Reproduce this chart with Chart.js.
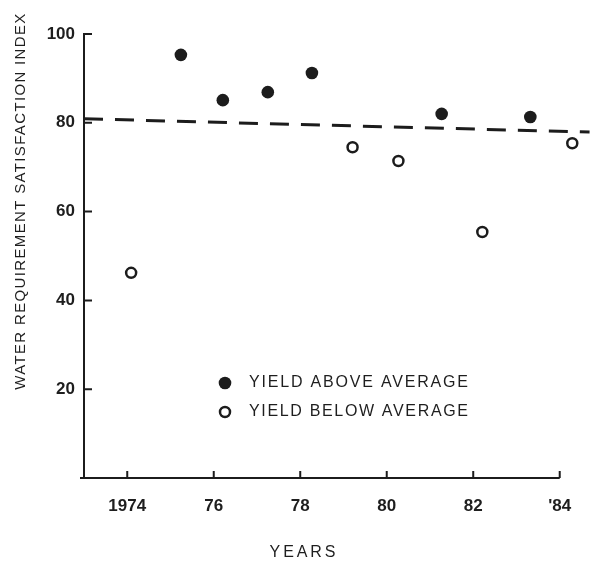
<!DOCTYPE html>
<html><head><meta charset="utf-8">
<script src="https://cdn.jsdelivr.net/npm/chart.js@4/dist/chart.umd.min.js"></script>
<style>html,body{margin:0;padding:0;background:#fff;} canvas{display:block;}</style>
</head><body>
<canvas id="c" width="590" height="561"></canvas>
<script>
// ---- data ----
const aboveYears  = [1975.24, 1976.21, 1977.25, 1978.27, 1981.27, 1983.32];
const aboveValues = [95.3, 85.1, 86.9, 91.2, 82.0, 81.3];
const belowYears  = [1974.09, 1979.21, 1980.27, 1982.21, 1984.29];
const belowValues = [46.2, 74.5, 71.4, 55.4, 75.4];
const meanLineYears  = [1973, 1984.69];
const meanLineValues = [80.9, 77.9];
const xTickValues = [1974, 1976, 1978, 1980, 1982, 1984];
const xTickLabels = ['1974', '76', '78', '80', '82', "'84"];
const yTickValues = [20, 40, 60, 80, 100];
const yTickLabels = ['20', '40', '60', '80', '100'];
const seriesLabels = ['YIELD ABOVE AVERAGE', 'YIELD BELOW AVERAGE'];
const xTitle = 'YEARS';
const yTitle = 'WATER REQUIREMENT SATISFACTION INDEX';

const INK = '#1c1c1c';
const TEXT = '#1e1e1e';
const FONT = 'Liberation Sans, Arial, sans-serif';
const X_AXIS_END = 1984;
const pts = (xs, ys) => xs.map((x, i) => ({x: x, y: ys[i]}));

function spacedText(ctx, text, x, y, targetWidth) {
  ctx.letterSpacing = '0px';
  const w = ctx.measureText(text).width;
  const sp = Math.max(0, (targetWidth - w) / (text.length - 1));
  ctx.letterSpacing = sp + 'px';
  ctx.fillText(text, x, y);
  ctx.letterSpacing = '0px';
}

const decor = {
  id: 'decor',
  afterDraw(chart) {
    const ctx = chart.ctx;
    const xs = chart.scales.x, ys = chart.scales.y;
    const ca = chart.chartArea;
    ctx.save();
    ctx.strokeStyle = INK;
    ctx.lineWidth = 2;
    // x axis line (ends at the last year tick)
    ctx.beginPath();
    ctx.moveTo(ca.left - 4, ca.bottom);
    ctx.lineTo(xs.getPixelForValue(X_AXIS_END), ca.bottom);
    // inward tick marks
    yTickValues.forEach(v => {
      const py = ys.getPixelForValue(v);
      ctx.moveTo(ca.left, py); ctx.lineTo(ca.left + 8, py);
    });
    xTickValues.forEach(v => {
      const px = xs.getPixelForValue(v);
      ctx.moveTo(px, ca.bottom); ctx.lineTo(px, ca.bottom - 7);
    });
    ctx.stroke();

    ctx.fillStyle = TEXT;
    // y title
    ctx.save();
    ctx.font = '15px ' + FONT;
    ctx.translate(21, 201);
    ctx.rotate(-Math.PI / 2);
    ctx.textAlign = 'center';
    ctx.textBaseline = 'middle';
    spacedText(ctx, yTitle, 0, 0, 376);
    ctx.restore();
    // x title
    ctx.font = '16px ' + FONT;
    ctx.textAlign = 'center';
    ctx.textBaseline = 'middle';
    spacedText(ctx, xTitle, 304, 553, 66);

    // legend
    const ds = chart.data.datasets;
    const lx = ca.left + 141;
    const rows = [383, 412];
    [0, 1].forEach(i => {
      const d = ds[i];
      ctx.beginPath();
      ctx.arc(lx, rows[i], d.pointRadius, 0, Math.PI * 2);
      ctx.fillStyle = d.backgroundColor;
      ctx.fill();
      if (d.borderWidth) {
        ctx.lineWidth = d.borderWidth;
        ctx.strokeStyle = d.borderColor;
        ctx.stroke();
      }
      ctx.fillStyle = TEXT;
      ctx.font = '16px ' + FONT;
      ctx.textAlign = 'left';
      ctx.textBaseline = 'middle';
      spacedText(ctx, seriesLabels[i], lx + 24, rows[i], 219);
    });
    ctx.restore();
  }
};

new Chart(document.getElementById('c'), {
  type: 'scatter',
  data: {
    datasets: [
      {
        label: seriesLabels[0],
        data: pts(aboveYears, aboveValues),
        backgroundColor: INK, borderColor: INK, borderWidth: 0,
        pointRadius: 6.3, clip: false
      },
      {
        label: seriesLabels[1],
        data: pts(belowYears, belowValues),
        backgroundColor: '#fff', borderColor: INK, borderWidth: 2.5,
        pointRadius: 5, clip: false
      },
      {
        type: 'line',
        label: 'mean',
        data: pts(meanLineYears, meanLineValues),
        borderColor: INK, borderWidth: 3, borderDash: [19, 12],
        pointRadius: 0, fill: false, clip: false
      }
    ]
  },
  options: {
    responsive: false,
    animation: false,
    devicePixelRatio: 1,
    layout: { autoPadding: false, padding: { top: 34, right: 0, left: 0, bottom: 0 } },
    plugins: { legend: { display: false }, tooltip: { enabled: false } },
    scales: {
      x: {
        type: 'linear', min: 1973, max: 1984.7,
        afterBuildTicks: s => { s.ticks = xTickValues.map(v => ({value: v})); },
        afterFit: s => { s.height = 83; },
        ticks: {
          callback: v => xTickLabels[xTickValues.indexOf(v)],
          font: { family: FONT, size: 17, weight: 'bold' }, color: TEXT,
          padding: 18, maxRotation: 0, autoSkip: false
        },
        grid: { display: false, drawTicks: false },
        border: { display: false }
      },
      y: {
        min: 0, max: 100,
        afterBuildTicks: s => { s.ticks = yTickValues.map(v => ({value: v})); },
        afterFit: s => { s.width = 84; },
        ticks: {
          callback: v => yTickLabels[yTickValues.indexOf(v)],
          font: { family: FONT, size: 17, weight: 'bold' }, color: TEXT,
          padding: 9, autoSkip: false
        },
        grid: { display: false, drawTicks: false },
        border: { display: true, color: INK, width: 2 }
      }
    }
  },
  plugins: [decor]
});
</script>
</body></html>
